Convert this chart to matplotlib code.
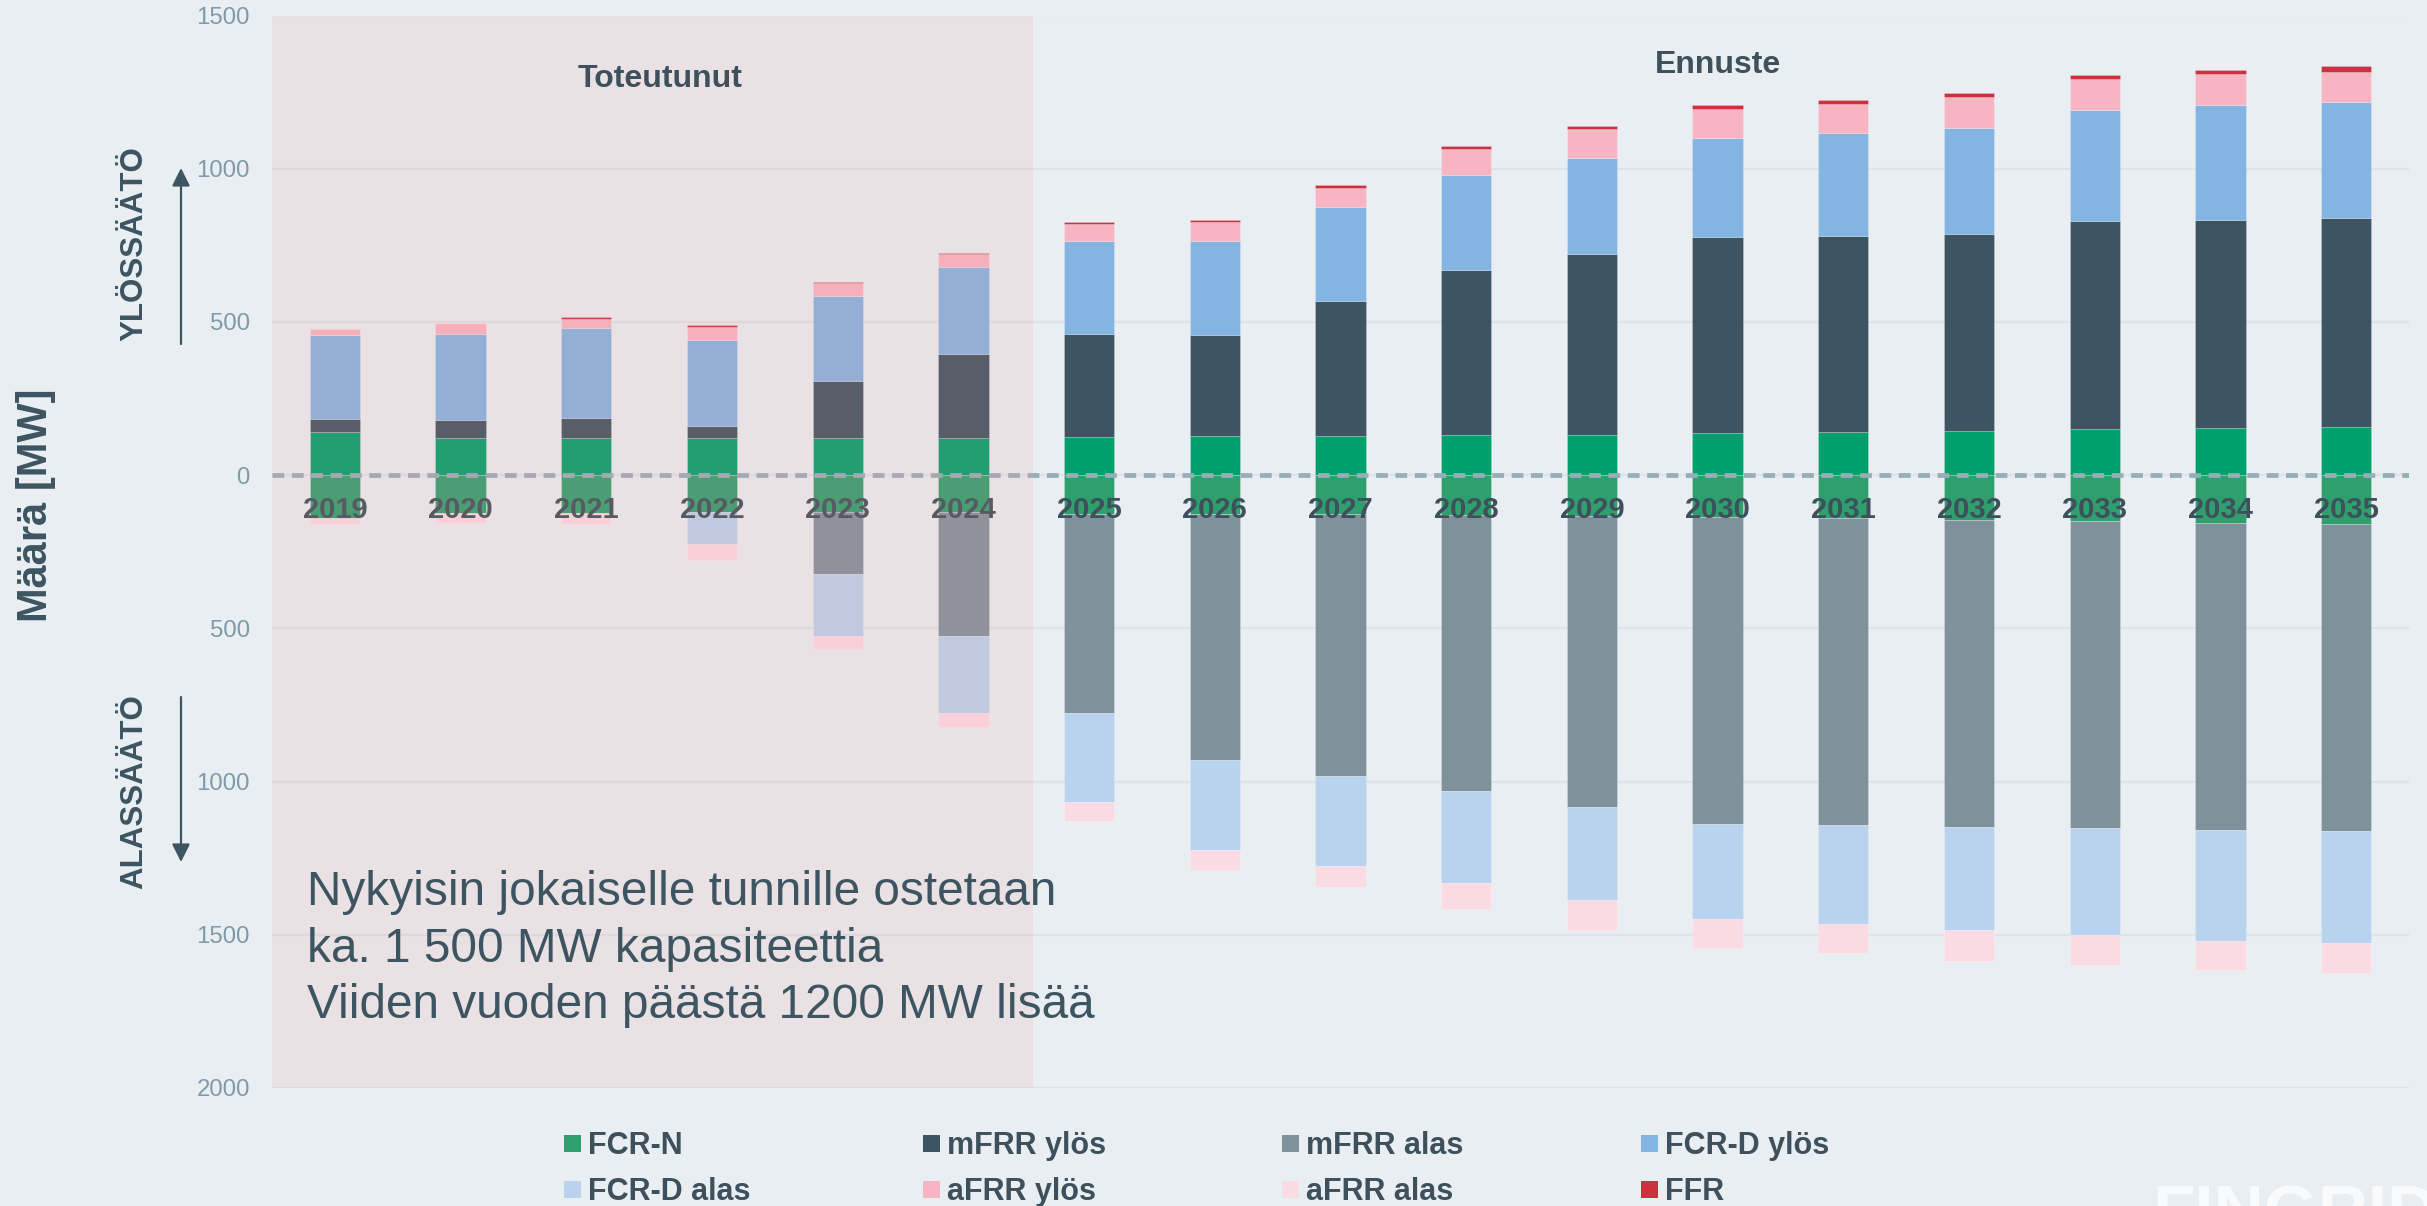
import numpy as np
import matplotlib
matplotlib.use('Agg')
import matplotlib.pyplot as plt
from matplotlib.patches import Rectangle, FancyArrowPatch
from matplotlib.ticker import FuncFormatter

plt.rcParams['font.family'] = ['Liberation Sans', 'DejaVu Sans']

# reserve capacity per year [MW]
years = [str(y) for y in range(2019, 2036)]
fcr_n = [140, 122, 122, 121, 121, 121, 126, 128, 128, 130, 132, 136, 141, 145, 151, 155, 158]
# upward regulation
mfrr_up = [42, 58, 64, 41, 186, 274, 335, 330, 439, 538, 590, 640, 638, 641, 678, 679, 680]
fcrd_up = [274, 279, 293, 278, 279, 285, 303, 305, 308, 312, 313, 323, 338, 347, 363, 375, 379]
afrr_up = [22, 36, 32, 45, 41, 42, 56, 64, 63, 85, 95, 96, 95, 101, 100, 100, 100]
ffr = [0, 3, 6, 6, 4, 4, 7, 5, 8, 9, 11, 13, 12, 13, 13, 14, 17]
# downward regulation
mfrr_down = [0, 0, 0, 0, 200, 405, 651, 801, 853, 900, 950, 1002, 1001, 1003, 1001, 1003, 1004]
fcrd_down = [0, 0, 0, 105, 205, 250, 291, 295, 296, 302, 306, 310, 322, 335, 348, 361, 364]
afrr_down = [18, 35, 39, 51, 41, 45, 62, 66, 66, 84, 95, 94, 96, 101, 99, 97, 100]

bg = '#e9eef2'
dark = '#3d5561'
txt = '#3d505b'
c_fcrn_up = '#00a06c'
c_fcrn_dn = '#2f9f6e'
c_mfrr_up = '#3d5562'
c_mfrr_dn = '#7f929c'
c_fcrd_up = '#84b4e2'
c_fcrd_dn = '#b9d2ee'
c_afrr_up = '#f7b5c3'
c_afrr_dn = '#fbdbe3'
c_ffr = '#cd303e'

W, H = 2427, 1206
fig = plt.figure(figsize=(W / 100, H / 100), dpi=100, facecolor=bg)
ax = fig.add_axes([272 / W, 1 - 1088 / H, (2409 - 272) / W, (1088 - 15.5) / H])
ax.set_facecolor(bg)

x = np.arange(len(years))
bw = 0.4


def stack(series, sign):
    base = np.zeros(len(years))
    for vals, col in series:
        vals = np.array(vals, dtype=float)
        m = vals > 0
        ax.bar(x[m], sign * vals[m], bw, bottom=sign * base[m], color=col,
               edgecolor=(1, 1, 1, 0.25), linewidth=0.6, zorder=2)
        base += vals


stack([(fcr_n, c_fcrn_up), (mfrr_up, c_mfrr_up), (fcrd_up, c_fcrd_up),
       (afrr_up, c_afrr_up), (ffr, c_ffr)], 1)
stack([(fcr_n, c_fcrn_dn), (mfrr_down, c_mfrr_dn), (fcrd_down, c_fcrd_dn),
       (afrr_down, c_afrr_dn)], -1)

ax.axhline(0, color='#97adb8', lw=3.4, dashes=(2.5, 1.6), zorder=3)

for i, yr in enumerate(years):
    ax.text(i, -114, yr, ha='center', va='center', fontsize=21,
            fontweight='bold', color=txt, zorder=4)

# realised period shading
ax.axvspan(-0.5, 5.55, color='#f09795', alpha=0.15, lw=0, zorder=5)

ax.text(2.59, 1292, 'Toteutunut', ha='center', va='center', fontsize=23,
        fontweight='bold', color=txt, zorder=6)
ax.text(11, 1340, 'Ennuste', ha='center', va='center', fontsize=23,
        fontweight='bold', color=txt, zorder=6)

note = ['Nykyisin jokaiselle tunnille ostetaan',
        'ka. 1 500 MW kapasiteettia',
        'Viiden vuoden päästä 1200 MW lisää']
for line, yb in zip(note, [-1404, -1588, -1772]):
    ax.text(-0.22, yb, line, ha='left', va='baseline', fontsize=34.4,
            color=dark, zorder=6)

ax.set_xlim(-0.5, 16.5)
ax.set_ylim(-2000, 1500)
ax.set_yticks(range(-2000, 1501, 500))
ax.yaxis.set_major_formatter(FuncFormatter(lambda v, p: f'{abs(int(v))}'))
ax.set_xticks([])
ax.tick_params(axis='y', length=0, pad=16, labelsize=17.3, labelcolor='#7f9aa8')
ax.yaxis.grid(True, color='#dde3e8', lw=1.6, zorder=0)
ax.set_axisbelow(True)
for s in ax.spines.values():
    s.set_visible(False)

# axis titles and direction arrows
fig.text(36 / W, 1 - 505 / H, 'Määrä [MW]', rotation=90, ha='center', va='center',
         fontsize=30, fontweight='bold', color=dark)
fig.text(134 / W, 1 - 244 / H, 'YLÖSSÄÄTÖ', rotation=90, ha='center', va='center',
         fontsize=22.5, fontweight='bold', color=dark)
fig.text(134 / W, 1 - 792 / H, 'ALASSÄÄTÖ', rotation=90, ha='center', va='center',
         fontsize=22.5, fontweight='bold', color=dark)
for y0, y1 in [(344, 168), (697, 862)]:
    fig.add_artist(FancyArrowPatch((181 / W, 1 - y0 / H), (181 / W, 1 - y1 / H),
                                   transform=fig.transFigure, arrowstyle='-|>',
                                   mutation_scale=27, color=dark, lw=1.6,
                                   shrinkA=0, shrinkB=0))

# legend, row by row
leg = [('FCR-N', c_fcrn_dn), ('mFRR ylös', c_mfrr_up), ('mFRR alas', c_mfrr_dn),
       ('FCR-D ylös', c_fcrd_up), ('FCR-D alas', c_fcrd_dn), ('aFRR ylös', c_afrr_up),
       ('aFRR alas', c_afrr_dn), ('FFR', c_ffr)]
col_x = [564, 923, 1282, 1641]
row_y = [1143, 1189]
for k, (lab, col) in enumerate(leg):
    lx = col_x[k % 4]
    ly = row_y[k // 4]
    fig.add_artist(Rectangle((lx / W, 1 - (ly + 8.5) / H), 17 / W, 17 / H,
                             transform=fig.transFigure, color=col, lw=0))
    fig.text((lx + 24) / W, 1 - (ly + 11) / H, lab, ha='left', va='baseline',
             fontsize=22, fontweight='bold', color=txt)

fig.text(2152 / W, 23 / H, 'FINGRID', ha='left', va='top', fontsize=50,
         fontweight='bold', color='#f8fafc')

fig.savefig('out.png', dpi=100, facecolor=bg)
